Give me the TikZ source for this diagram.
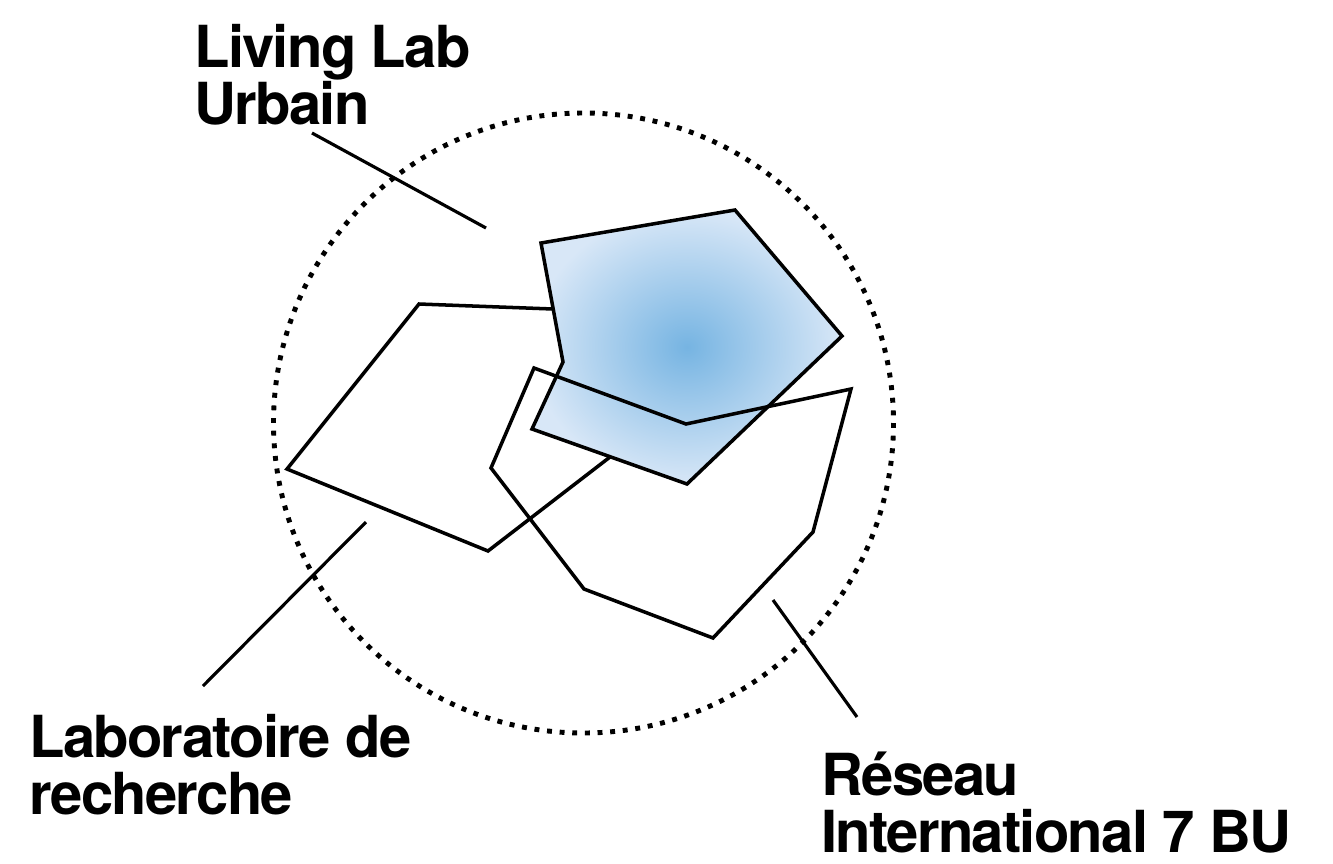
\documentclass[tikz,border=0pt]{standalone}
\usepackage{fontspec}
\usepackage{tikz}
\newfontfamily\headfont[LetterSpace=-3]{TeX Gyre Heros}
\definecolor{paleblue}{RGB}{216,231,247}
\definecolor{midblue}{RGB}{118,180,226}

\begin{document}
\begin{tikzpicture}[x=0.02cm,y=-0.02cm,
poly/.style={black,line width=2pt},
leader/.style={black,line width=1.8pt},
ring/.style={black,line width=2.8pt,dash pattern=on 2.8pt off 4.4pt},
lbl/.style={anchor=base west,inner sep=0pt,align=left,
  font=\fontsize{33}{32.4}\selectfont\headfont\bfseries}]
\useasboundingbox (0,0) rectangle (1333,863);
\draw[ring] (583.5,423) circle[radius=310];
% corners of the three fields
\foreach \n/\x/\y in {l1/553/309,l2/419/304,l3/287/469,l4/488/551,l5/610/457,
  b1/541/243,b2/735/210,b3/842/336,b4/687/484,b5/532/429,b6/563/362,
  r1/534/368,r2/686/424,r3/851/389,r4/813/532,r5/713/638,r6/584/589,r7/491/468}
  \coordinate (\n) at (\x,\y);
\draw[poly] (l1)--(l2)--(l3)--(l4)--(l5);
\draw[poly,inner color=midblue,outer color=paleblue]
  (b1)--(b2)--(b3)--(b4)--(b5)--(b6)--cycle;
\draw[poly] (r1)--(r2)--(r3)--(r4)--(r5)--(r6)--(r7)--cycle;
% labels and leaders (anchor sits on the last line)
\node[lbl] (living) at (194,124) {Living Lab\\Urbain};
\node[lbl] (labo) at (29,814) {Laboratoire de\\recherche};
\node[lbl] (reseau) at (821,852) {Réseau\\International 7 BU};
\foreach \n/\x/\y in {livA/312/133,livB/486/228,labA/366/522,labB/203/686,
  resA/773/600,resB/857/717}
  \coordinate (\n) at (\x,\y);
\draw[leader] (livA)--(livB);
\draw[leader] (labA)--(labB);
\draw[leader] (resA)--(resB);
\end{tikzpicture}
\end{document}
